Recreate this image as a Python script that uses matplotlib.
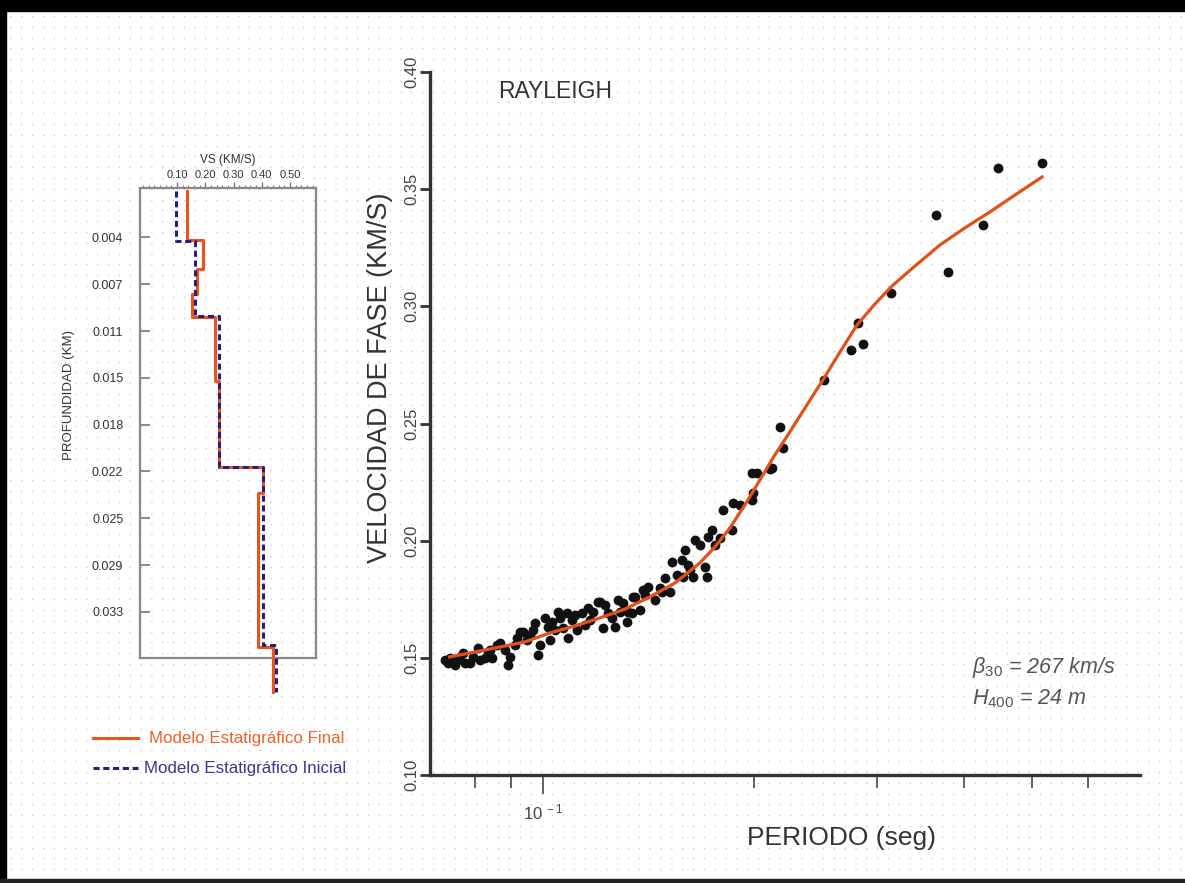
import numpy as np
import matplotlib
matplotlib.use("Agg")
import matplotlib.pyplot as plt
from matplotlib.patches import Rectangle
from matplotlib.ticker import FixedLocator, NullFormatter

plt.rcParams['font.family'] = ['Liberation Sans', 'DejaVu Sans']
plt.rcParams['mathtext.fontset'] = 'custom'
plt.rcParams['mathtext.rm'] = 'Liberation Sans'
plt.rcParams['mathtext.it'] = 'Liberation Sans:italic'

# --- curva de dispersion (Rayleigh) ---
periodo = [0.0724, 0.0736, 0.0749, 0.0756, 0.0769, 0.0774, 0.0787, 0.0807, 0.0813,
           0.0826, 0.0840, 0.0846, 0.0860, 0.0868, 0.0882, 0.0891, 0.0897, 0.0918,
           0.0936, 0.0949, 0.0958, 0.0974, 0.0984, 0.0990, 0.1007, 0.1017, 0.1030,
           0.1040, 0.1057, 0.1068, 0.1082, 0.1086, 0.1100, 0.1118, 0.1137, 0.1148,
           0.1160, 0.1179, 0.1198, 0.1206, 0.1218, 0.1238, 0.1255, 0.1267, 0.1288,
           0.1301, 0.1318, 0.1340, 0.1345, 0.1353, 0.1376, 0.1399, 0.1413, 0.1445,
           0.1479, 0.1494, 0.1519, 0.1529, 0.1580, 0.1585, 0.1596, 0.1622, 0.1638,
           0.1649, 0.1676, 0.1704, 0.1715, 0.1721, 0.1743, 0.1790, 0.1808, 0.1862,
           0.1868, 0.1988, 0.1995, 0.1988, 0.2022, 0.2110, 0.2124, 0.2181, 0.2202,
           0.2520, 0.2754, 0.2818, 0.2865, 0.3142, 0.3643, 0.3790, 0.4252, 0.4467,
           0.5164,
           0.0732, 0.0761, 0.0794, 0.0835, 0.0912, 0.0927, 0.0968, 0.1023, 0.1051,
           0.1111, 0.1167, 0.1226, 0.1280, 0.1323, 0.1389, 0.1470, 0.1554, 0.1611,
           0.1761, 0.1912]
velocidad = [0.1491, 0.1499, 0.1469, 0.1491, 0.1521, 0.1478, 0.1478, 0.1542, 0.1491,
             0.1499, 0.1534, 0.1499, 0.1555, 0.1563, 0.1534, 0.1469, 0.1504, 0.1585,
             0.1610, 0.1576, 0.1598, 0.1649, 0.1512, 0.1555, 0.1670, 0.1632, 0.1653,
             0.1619, 0.1670, 0.1627, 0.1691, 0.1585, 0.1662, 0.1619, 0.1691, 0.1640,
             0.1713, 0.1696, 0.1738, 0.1738, 0.1627, 0.1691, 0.1670, 0.1632, 0.1696,
             0.1734, 0.1653, 0.1691, 0.1760, 0.1760, 0.1704, 0.1768, 0.1802, 0.1747,
             0.1781, 0.1841, 0.1781, 0.1909, 0.1918, 0.1845, 0.1960, 0.1875, 0.1845,
             0.2003, 0.1982, 0.1888, 0.1845, 0.2016, 0.2046, 0.2012, 0.2131, 0.2046,
             0.2161, 0.2174, 0.2204, 0.2289, 0.2289, 0.2306, 0.2310, 0.2485, 0.2396,
             0.2686, 0.2814, 0.2929, 0.2840, 0.3057, 0.3390, 0.3147, 0.3347, 0.3591,
             0.3612,
             0.1478, 0.1504, 0.1504, 0.1525, 0.1555, 0.1610, 0.1619, 0.1576, 0.1696,
             0.1683, 0.1662, 0.1726, 0.1747, 0.1696, 0.1790, 0.1798, 0.1854, 0.1896,
             0.1982, 0.2152]

ajuste_periodo = [0.0736, 0.0800, 0.0868, 0.0943, 0.1023, 0.1111, 0.1206, 0.1310,
                  0.1422, 0.1544, 0.1676, 0.1761, 0.1850, 0.1943, 0.2042, 0.2145,
                  0.2253, 0.2368, 0.2512, 0.2657, 0.2809, 0.2981, 0.3153, 0.3400,
                  0.3692, 0.4008, 0.4351, 0.4724, 0.5164]
ajuste_velocidad = [0.1504, 0.1525, 0.1546, 0.1568, 0.1606, 0.1636, 0.1670, 0.1708,
                    0.1760, 0.1819, 0.1905, 0.1973, 0.2054, 0.2152, 0.2259, 0.2366,
                    0.2464, 0.2566, 0.2686, 0.2805, 0.2920, 0.3010, 0.3087, 0.3172,
                    0.3262, 0.3335, 0.3403, 0.3475, 0.3552]

x_ticks = [0.08, 0.09, 0.1, 0.2, 0.3, 0.4, 0.5, 0.6]
y_ticks = [0.10, 0.15, 0.20, 0.25, 0.30, 0.35, 0.40]

# --- modelos de velocidad de corte ---
prof_inicial = [0.0, 0.00394, 0.00972, 0.02144, 0.03517, 0.0388]
vs_inicial = [0.097, 0.164, 0.249, 0.404, 0.450]
prof_final = [0.0, 0.00386, 0.00609, 0.00802, 0.00980, 0.01473, 0.02144, 0.02345, 0.03533, 0.0388]
vs_final = [0.135, 0.192, 0.171, 0.152, 0.235, 0.249, 0.404, 0.387, 0.440]

prof_ticks = [0.003625 * k for k in range(1, 10)]
prof_labels = ['0.004', '0.007', '0.011', '0.015', '0.018', '0.022', '0.025', '0.029', '0.033']
vs_ticks = [0.10, 0.20, 0.30, 0.40, 0.50]


def escalones(prof, vs):
    xs, ys = [], []
    for i, v in enumerate(vs):
        xs += [v, v]
        ys += [prof[i], prof[i + 1]]
    return xs, ys


W, H = 1185, 883
fig = plt.figure(figsize=(W / 100, H / 100), dpi=100)
fig.patch.set_facecolor('white')

# fondo punteado y marco
bg = fig.add_axes([0, 0, 1, 1], zorder=-10)
bg.set_xlim(0, W)
bg.set_ylim(H, 0)
bg.axis('off')
for yy in np.arange(16, H - 4, 10.8):
    bg.plot([10, W], [yy, yy], color='#bdbdbd', lw=1.0,
            linestyle=(0, (0.8, 7.0)), solid_capstyle='butt')
bg.add_patch(Rectangle((0, 0), W, 11, color='black'))
bg.add_patch(Rectangle((0, 0), 6, H, color='black'))
bg.add_patch(Rectangle((0, H - 4), W, 4, color='#222222'))

grey = '#444444'

# ---------------- panel principal ----------------
ax = fig.add_axes([430 / W, 1 - 775 / H, (1140 - 430) / W, (775 - 72) / H])
ax.patch.set_alpha(0)
ax.set_xscale('log')
ax.set_xlim(0.0690, 0.7127)
ax.set_ylim(0.10, 0.40)
ax.scatter(periodo, velocidad, s=50, color='#111111', zorder=3, linewidths=0)
ax.plot(ajuste_periodo, ajuste_velocidad, color='#e2501c', lw=2.3, zorder=4)

for s in ['top', 'right']:
    ax.spines[s].set_visible(False)
for s in ['left', 'bottom']:
    ax.spines[s].set_linewidth(2.4)
    ax.spines[s].set_color('#333333')
ax.xaxis.set_major_locator(FixedLocator([0.1]))
ax.xaxis.set_minor_locator(FixedLocator([t for t in x_ticks if t != 0.1]))
ax.xaxis.set_minor_formatter(NullFormatter())
ax.set_xticklabels([r'$10^{\ -1}$'])
ax.tick_params(axis='x', which='major', length=14, width=1.3, color='#555555',
               labelsize=12, labelcolor=grey, pad=6)
ax.tick_params(axis='x', which='minor', length=9, width=1.3, color='#555555')
ax.set_yticks(y_ticks)
ax.set_yticklabels(['%.2f' % v for v in y_ticks], rotation=90, va='center')
ax.tick_params(axis='y', length=7, width=2, color='#333333', labelsize=12,
               labelcolor=grey, pad=1)

ax.set_ylabel('VELOCIDAD DE FASE (KM/S)', fontsize=19.5, color='#333333')
ax.yaxis.set_label_coords(-0.052, 0.565)
ax.set_xlabel('PERIODO (seg)', fontsize=19, color='#333333')
ax.xaxis.set_label_coords(0.58, -0.072)
ax.text(0.096, 0.988, 'RAYLEIGH', transform=ax.transAxes, fontsize=16.5,
        color='#333333', va='top', ha='left')
ax.text(0.763, 0.145, r'$\beta_{30}$ = 267 km/s', transform=ax.transAxes,
        fontsize=15.5, color='#555555', style='italic')
ax.text(0.763, 0.100, r'$\it{H}_{400}$ = 24 m', transform=ax.transAxes,
        fontsize=15.5, color='#555555', style='italic')

# ---------------- panel de perfil ----------------
ax2 = fig.add_axes([140 / W, 1 - 658 / H, (316 - 140) / W, (658 - 188) / H])
ax2.patch.set_alpha(0)
ax2.set_xlim(-0.031, 0.592)
ax2.set_ylim(0.0362, -0.0002)
xf, yf = escalones(prof_final, vs_final)
xi, yi = escalones(prof_inicial, vs_inicial)
ax2.plot(xf, yf, color='#e8541e', lw=2.2, clip_on=False, zorder=3)
ax2.plot(xi, yi, color='#2c1d78', lw=2.2, linestyle=(0, (2, 1.2)),
         clip_on=False, zorder=4)
for s in ax2.spines.values():
    s.set_color('#888888')
    s.set_linewidth(1.6)
ax2.xaxis.tick_top()
ax2.set_xticks(vs_ticks)
ax2.set_xticklabels(['%.2f' % v for v in vs_ticks])
ax2.xaxis.set_minor_locator(FixedLocator(list(np.arange(-0.02, 0.6, 0.02))))
ax2.tick_params(axis='x', which='major', direction='out', length=4, width=1,
                color='#777777', labelsize=8, labelcolor='#333333', pad=2)
ax2.tick_params(axis='x', which='minor', direction='out', length=2.5, width=0.8,
                color='#777777')
ax2.set_yticks(prof_ticks)
ax2.set_yticklabels(prof_labels)
ax2.tick_params(axis='y', direction='in', length=7, width=1.2, color='#777777',
                labelsize=9, labelcolor='#333333', pad=12)
ax2.set_xlabel('VS (KM/S)', fontsize=8.5, color='#333333', labelpad=5)
ax2.xaxis.set_label_position('top')
ax2.set_ylabel('PROFUNDIDAD (KM)', fontsize=9.5, color='#333333')
ax2.yaxis.set_label_coords(-0.37, 0.56)

# leyenda manual
fig.add_artist(plt.Line2D([93 / W, 138 / W], [1 - 738 / H] * 2, color='#e8541e', lw=2.2))
fig.add_artist(plt.Line2D([93 / W, 138 / W], [1 - 768 / H] * 2, color='#2c1d78', lw=2.2,
                          linestyle=(0, (2, 1.2))))
fig.text(149 / W, 1 - 738 / H, 'Modelo Estatigráfico Final', color='#e8632a',
         fontsize=12.2, va='center')
fig.text(144 / W, 1 - 768 / H, 'Modelo Estatigráfico Inicial', color='#3b3590',
         fontsize=12.2, va='center')

fig.savefig('out.png', dpi=100)
